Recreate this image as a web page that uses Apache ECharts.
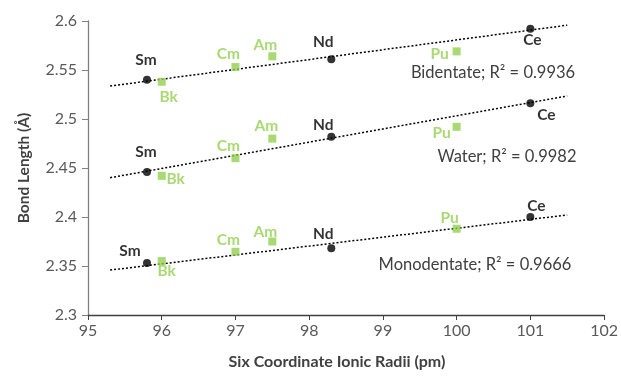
<!DOCTYPE html>
<html>
<head>
<meta charset="utf-8">
<script src="https://cdn.jsdelivr.net/npm/echarts@6/dist/echarts.min.js"></script>
<style>
  html, body { margin: 0; padding: 0; background: #fff; }
  #chart { width: 621px; height: 376px; }
</style>
</head>
<body>
<div id="chart"></div>
<script>
// 镧系 (black circles) and 锕系 (green squares)
const lnNames = ['Sm', 'Nd', 'Ce'];
const lnRadii = [95.8, 98.3, 101];
const anNames = ['Bk', 'Cm', 'Am', 'Pu'];
const anRadii = [96, 97, 97.5, 100];

const bidentateLn = [2.540, 2.561, 2.592];
const bidentateAn = [2.538, 2.553, 2.564, 2.569];
const waterLn = [2.446, 2.482, 2.516];
const waterAn = [2.442, 2.460, 2.480, 2.492];
const monoLn = [2.353, 2.368, 2.400];
const monoAn = [2.355, 2.3645, 2.375, 2.388];

const groupNames = ['Bidentate', 'Water', 'Monodentate'];
const rSquared = ['0.9936', '0.9982', '0.9666'];

const xTicks = [95, 96, 97, 98, 99, 100, 101, 102];
const yTicks = [2.3, 2.35, 2.4, 2.45, 2.5, 2.55, 2.6];

// label offsets (style only)
const lnOffsets = [
    [[-1, -20], [-8, -17], [2, 11]],
    [[-1, -20], [-8, -12], [16, 12]],
    [[-17, -12], [-8, -14], [6, -11]]
];
const anOffsets = [
    [[7, 15], [-7, -13], [-7, -11], [-17, 3]],
    [[14, 3], [-7, -12], [-6, -13], [-15, 6]],
    [[5, 10], [-7, -12], [-7, -10], [-7, -11]]
];
const noteBoxes = [[493, 73], [507, 157], [475, 265]];

const BLACK = '#000000';
const GREEN = '#92D050';
const FONT = 'Lato';

// 线性回归 (Excel 趋势线, 只用镧系点)
function fit(xs, ys) {
    const n = xs.length;
    const mx = xs.reduce((a, b) => a + b, 0) / n;
    const my = ys.reduce((a, b) => a + b, 0) / n;
    let sxy = 0, sxx = 0;
    for (let i = 0; i < n; i++) {
        sxy += (xs[i] - mx) * (ys[i] - my);
        sxx += (xs[i] - mx) * (xs[i] - mx);
    }
    const k = sxy / sxx;
    return x => my + k * (x - mx);
}

const lnGroups = [bidentateLn, waterLn, monoLn];
const anGroups = [bidentateAn, waterAn, monoAn];
const series = [];

lnGroups.forEach((ys, g) => {
    const f = fit(lnRadii, ys);
    const x0 = lnRadii[0] - 0.5;
    const x1 = lnRadii[lnRadii.length - 1] + 0.5;
    series.push({
        type: 'line',
        data: [[x0, f(x0)], [x1, f(x1)]],
        symbol: 'none',
        silent: true,
        lineStyle: { color: BLACK, width: 1.5, type: [2, 2] },
        z: 1
    });
});

lnGroups.forEach((ys, g) => {
    series.push({
        type: 'scatter',
        symbol: 'circle',
        symbolSize: 8,
        itemStyle: { color: BLACK },
        z: 3,
        data: ys.map((y, i) => ({
            name: lnNames[i],
            value: [lnRadii[i], y],
            label: {
                show: true,
                position: 'inside',
                offset: lnOffsets[g][i],
                formatter: '{b}',
                color: BLACK,
                fontFamily: FONT,
                fontWeight: 'bold',
                fontSize: 15.5
            }
        }))
    });
});

anGroups.forEach((ys, g) => {
    series.push({
        type: 'scatter',
        symbol: 'rect',
        symbolSize: 8,
        itemStyle: { color: GREEN },
        z: 2,
        data: ys.map((y, i) => ({
            name: anNames[i],
            value: [anRadii[i], y],
            label: {
                show: true,
                position: 'inside',
                offset: anOffsets[g][i],
                formatter: '{b}',
                color: GREEN,
                fontFamily: FONT,
                fontWeight: 'bold',
                fontSize: 15.5
            }
        }))
    });
});

const graphic = groupNames.map((name, g) => ({
    type: 'text',
    x: noteBoxes[g][0],
    y: noteBoxes[g][1],
    style: {
        text: name + '; R² = ' + rSquared[g],
        fill: '#404040',
        font: '16.5px ' + FONT,
        textAlign: 'center',
        textVerticalAlign: 'middle'
    }
}));
// x 轴标题 (Excel 里略偏左)
graphic.push({
    type: 'text',
    x: 337,
    y: 362,
    style: {
        text: 'Six Coordinate Ionic Radii (pm)',
        fill: '#404040',
        font: 'bold 16px ' + FONT,
        textAlign: 'center',
        textVerticalAlign: 'middle'
    }
});

const myEcharts = echarts.init(document.getElementById('chart'));
const option = {
    animation: false,
    backgroundColor: '#fff',
    grid: { left: 88, right: 16, top: 21, bottom: 61 },
    xAxis: {
        type: 'value',
        min: xTicks[0],
        max: xTicks[xTicks.length - 1],
        interval: 1,
        axisLine: { lineStyle: { color: '#404040', width: 1.3 } },
        axisTick: { show: true, length: 5, lineStyle: { color: '#404040' } },
        axisLabel: { color: '#595959', fontFamily: FONT, fontSize: 16, margin: 8 },
        splitLine: { show: false }
    },
    yAxis: {
        type: 'value',
        min: yTicks[0],
        max: yTicks[yTicks.length - 1],
        interval: 0.05,
        name: 'Bond Length (Å)',
        nameLocation: 'middle',
        nameGap: 56,
        nameTextStyle: { color: '#404040', fontFamily: FONT, fontWeight: 'bold', fontSize: 15.5 },
        axisLine: { show: true, lineStyle: { color: '#808080', width: 1.3 } },
        axisTick: { show: true, length: 6, lineStyle: { color: '#808080' } },
        axisLabel: {
            color: '#595959', fontFamily: FONT, fontSize: 16, margin: 11,
            formatter: v => String(Math.round(v * 100) / 100)
        },
        splitLine: { show: false }
    },
    graphic: graphic,
    series: series
};
myEcharts.setOption(option);
</script>
</body>
</html>
